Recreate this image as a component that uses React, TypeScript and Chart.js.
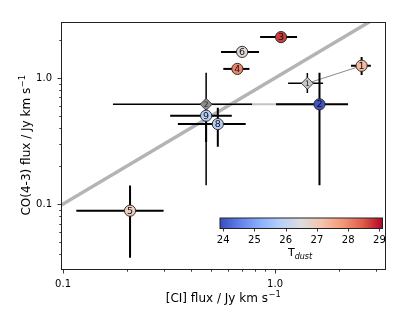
import React, { useEffect, useRef } from 'react';
import { Chart, registerables } from 'chart.js';
Chart.register(...registerables);

const FONT = 'DejaVu Sans';

// main sources (circles)
const labels = ['1', '2', '3', '4', '5', '6', '8', '9'];
const ciFlux = [2.56, 1.62, 1.067, 0.664, 0.207, 0.699, 0.537, 0.473];
const ciLo = [2.28, 1.011, 0.85, 0.57, 0.1155, 0.556, 0.348, 0.32];
const ciHi = [2.83, 2.21, 1.27, 0.757, 0.298, 0.84, 0.727, 0.625];
const coFlux = [1.25, 0.618, 2.11, 1.18, 0.0885, 1.61, 0.431, 0.502];
const coLo = [1.056, 0.141, 2.11, 1.18, 0.0375, 1.61, 0.285, 0.31];
const coHi = [1.468, 1.1, 2.11, 1.18, 0.14, 1.61, 0.581, 0.6];
const tDust = [27.3, 24.0, 28.7, 28.05, 26.9, 26.6, 25.8, 25.8];

// alternative measurements (diamonds), linked to main sources
const altLabels = ['1', '2'];
const altLink = [0, 1];
const altCi = [1.42, 0.473];
const altCiLo = [1.152, 0.172];
const altCiHi = [1.684, 0.779];
const altCo = [0.907, 0.618];
const altCoLo = [0.76, 0.141];
const altCoHi = [1.096, 1.1];
const altColors = ['#c6c6c6', '#8e8e8e'];

// one-to-one line
const oneToOne = [0.05, 5];

// axes
const xMin = 0.0978, xMax = 3.3;
const yMin = 0.0305, yMax = 2.78;
const xTicks = [0.1, 0.2, 0.3, 0.4, 0.5, 0.6, 0.7, 0.8, 0.9, 1, 2, 3];
const yTicks = [0.04, 0.05, 0.06, 0.07, 0.08, 0.09, 0.1, 0.2, 0.3, 0.4, 0.5, 0.6, 0.7, 0.8, 0.9, 1, 2];
const majorTicks = [0.1, 1];

// colorbar
const cbMin = 23.9, cbMax = 29.1;
const cbTicks = [24, 25, 26, 27, 28, 29];

const coolwarm: [number, number, number][] = [
  [59, 76, 192], [98, 130, 234], [141, 176, 254], [184, 208, 249], [221, 221, 221],
  [245, 196, 173], [244, 154, 123], [222, 96, 77], [180, 4, 38],
];
function cmap(f: number): string {
  f = Math.max(0, Math.min(1, f));
  const p = f * (coolwarm.length - 1);
  const i = Math.min(Math.floor(p), coolwarm.length - 2);
  const t = p - i;
  const a = coolwarm[i], b = coolwarm[i + 1];
  const c = a.map((v, k) => Math.round(v + (b[k] - v) * t));
  return `rgb(${c[0]},${c[1]},${c[2]})`;
}
const tColor = (t: number) => cmap((t - cbMin) / (cbMax - cbMin));

function drawSup(ctx: CanvasRenderingContext2D, base: string, sup: string, cx: number, cy: number, size: number) {
  ctx.font = `${size}px ${FONT}`;
  const wb = ctx.measureText(base).width;
  ctx.font = `${size * 0.7}px ${FONT}`;
  const ws = ctx.measureText(sup).width;
  const start = cx - (wb + ws) / 2;
  ctx.textAlign = 'left';
  ctx.textBaseline = 'middle';
  ctx.font = `${size}px ${FONT}`;
  ctx.fillText(base, start, cy);
  ctx.font = `${size * 0.7}px ${FONT}`;
  ctx.fillText(sup, start + wb + 0.5, cy - size * 0.38);
}

const overlay = {
  id: 'overlay',
  beforeDatasetDraw(chart: any, args: any) {
    if (args.index !== 1) return;
    const { ctx, chartArea: a } = chart;
    const xs = chart.scales.x, ys = chart.scales.y;
    ctx.save();
    ctx.beginPath();
    ctx.rect(a.left, a.top, a.right - a.left, a.bottom - a.top);
    ctx.clip();
    // connectors
    altLink.forEach((m, i) => {
      ctx.strokeStyle = i === 0 ? '#8a8a8a' : '#c4c4c4';
      ctx.lineWidth = i === 0 ? 1 : 2;
      ctx.beginPath();
      ctx.moveTo(xs.getPixelForValue(altCi[i]), ys.getPixelForValue(altCo[i]));
      ctx.lineTo(xs.getPixelForValue(ciFlux[m]), ys.getPixelForValue(coFlux[m]));
      ctx.stroke();
    });
    const bars = (cx: number[], cl: number[], ch: number[], yv: number[], yl: number[], yh: number[], w: number) => {
      ctx.strokeStyle = '#000';
      ctx.lineWidth = w;
      for (let i = 0; i < cx.length; i++) {
        const px = xs.getPixelForValue(cx[i]);
        const py = ys.getPixelForValue(yv[i]);
        ctx.beginPath();
        ctx.moveTo(xs.getPixelForValue(cl[i]), py);
        ctx.lineTo(xs.getPixelForValue(ch[i]), py);
        if (yl[i] !== yh[i]) {
          ctx.moveTo(px, ys.getPixelForValue(yl[i]));
          ctx.lineTo(px, ys.getPixelForValue(yh[i]));
        }
        ctx.stroke();
      }
    };
    bars(altCi, altCiLo, altCiHi, altCo, altCoLo, altCoHi, 1.5);
    bars(ciFlux, ciLo, ciHi, coFlux, coLo, coHi, 2);
    ctx.restore();
  },
  afterDatasetsDraw(chart: any) {
    const { ctx } = chart;
    const xs = chart.scales.x, ys = chart.scales.y;
    ctx.save();
    ctx.textAlign = 'center';
    ctx.textBaseline = 'middle';
    ctx.fillStyle = '#222';
    ctx.font = `7.5px ${FONT}`;
    altLabels.forEach((l, i) => {
      ctx.fillText(l, xs.getPixelForValue(altCi[i]), ys.getPixelForValue(altCo[i]) + 0.5);
    });
    ctx.fillStyle = '#111';
    ctx.font = `9.5px ${FONT}`;
    labels.forEach((l, i) => {
      ctx.fillText(l, xs.getPixelForValue(ciFlux[i]), ys.getPixelForValue(coFlux[i]) + 0.5);
    });
    ctx.restore();
  },
  afterDraw(chart: any) {
    const { ctx, chartArea: a } = chart;
    const xs = chart.scales.x, ys = chart.scales.y;
    ctx.save();
    // frame
    ctx.strokeStyle = '#222';
    ctx.lineWidth = 1;
    ctx.strokeRect(Math.round(a.left) + 0.5, Math.round(a.top) + 0.5, Math.round(a.right - a.left), Math.round(a.bottom - a.top));
    // ticks
    ctx.lineWidth = 0.9;
    ctx.beginPath();
    xTicks.forEach(v => {
      const px = Math.round(xs.getPixelForValue(v)) + 0.5;
      const len = majorTicks.includes(v) ? 4 : 2.2;
      ctx.moveTo(px, a.bottom + 0.5);
      ctx.lineTo(px, a.bottom + 0.5 + len);
    });
    yTicks.forEach(v => {
      const py = Math.round(ys.getPixelForValue(v)) + 0.5;
      const len = majorTicks.includes(v) ? 4 : 2.2;
      ctx.moveTo(a.left + 0.5, py);
      ctx.lineTo(a.left + 0.5 - len, py);
    });
    ctx.stroke();

    // colorbar
    const L = 220, R = 382.5, T = 218, B = 228.5;
    const g = ctx.createLinearGradient(L, 0, R, 0);
    coolwarm.forEach((c, i) => g.addColorStop(i / (coolwarm.length - 1), `rgb(${c[0]},${c[1]},${c[2]})`));
    ctx.fillStyle = g;
    ctx.fillRect(L, T, R - L, B - T);
    ctx.strokeStyle = '#222';
    ctx.lineWidth = 1;
    ctx.strokeRect(L, T, R - L, B - T);
    ctx.fillStyle = '#000';
    ctx.font = `10px ${FONT}`;
    ctx.textAlign = 'center';
    ctx.textBaseline = 'middle';
    ctx.beginPath();
    cbTicks.forEach(t => {
      const px = L + (t - cbMin) / (cbMax - cbMin) * (R - L);
      ctx.moveTo(Math.round(px) + 0.5, B);
      ctx.lineTo(Math.round(px) + 0.5, B + 3);
      ctx.fillText(String(t), px, 240.5);
    });
    ctx.lineWidth = 0.9;
    ctx.stroke();
    // T_dust
    ctx.font = `11px ${FONT}`;
    const wT = ctx.measureText('T').width;
    ctx.font = `italic 8px ${FONT}`;
    const wd = ctx.measureText('dust').width;
    const sx = 300 - (wT + wd) / 2;
    ctx.textAlign = 'left';
    ctx.font = `11px ${FONT}`;
    ctx.fillText('T', sx, 253.5);
    ctx.font = `italic 8px ${FONT}`;
    ctx.fillText('dust', sx + wT, 256.5);

    // axis titles
    ctx.fillStyle = '#000';
    drawSup(ctx, '[CI] flux / Jy km s', '\u22121', (a.left + a.right) / 2, 299, 12);
    ctx.save();
    ctx.translate(27, (a.top + a.bottom) / 2);
    ctx.rotate(-Math.PI / 2);
    drawSup(ctx, 'CO(4-3) flux / Jy km s', '\u22121', 0, 0, 12);
    ctx.restore();
    ctx.restore();
  },
};

export default function App() {
  const ref = useRef<HTMLCanvasElement>(null);
  useEffect(() => {
    const canvas = ref.current!;
    const tickLabel = (v: any) => (majorTicks.includes(Number(v)) ? Number(v).toFixed(1) : '');
    const chart = new Chart(canvas, {
      type: 'scatter',
      data: {
        datasets: [
          {
            type: 'line',
            data: oneToOne.map(v => ({ x: v, y: v })),
            borderColor: '#b4b4b4',
            borderWidth: 3.5,
            pointRadius: 0,
            order: 3,
          } as any,
          {
            data: altCi.map((v, i) => ({ x: v, y: altCo[i] })),
            pointStyle: 'rectRot',
            pointRadius: 6,
            backgroundColor: altColors,
            borderColor: '#222',
            borderWidth: 0.8,
            order: 2,
          },
          {
            data: ciFlux.map((v, i) => ({ x: v, y: coFlux[i] })),
            pointStyle: 'circle',
            pointRadius: 5.6,
            backgroundColor: tDust.map(tColor),
            borderColor: '#222',
            borderWidth: 0.9,
            order: 1,
          },
        ],
      },
      options: {
        animation: false,
        responsive: false,
        devicePixelRatio: 1,
        layout: { padding: { left: 0, top: 22, right: 22, bottom: 0 } },
        plugins: { legend: { display: false }, tooltip: { enabled: false } },
        scales: {
          x: {
            type: 'logarithmic',
            min: xMin,
            max: xMax,
            grid: { display: false },
            border: { display: false },
            afterBuildTicks: (s: any) => { s.ticks = xTicks.map(v => ({ value: v })); },
            afterFit: (s: any) => { s.height = 48; },
            ticks: { autoSkip: false, maxRotation: 0, padding: 1, color: '#000', font: { family: FONT, size: 10 }, callback: tickLabel },
          },
          y: {
            type: 'logarithmic',
            min: yMin,
            max: yMax,
            grid: { display: false },
            border: { display: false },
            afterBuildTicks: (s: any) => { s.ticks = yTicks.map(v => ({ value: v })); },
            afterFit: (s: any) => { s.width = 61; },
            ticks: { autoSkip: false, padding: 1, color: '#000', font: { family: FONT, size: 10 }, callback: tickLabel },
          },
        },
      },
      plugins: [overlay],
    } as any);
    return () => chart.destroy();
  }, []);
  return (
    <div style={{ position: 'fixed', left: 0, top: 0, width: 407, height: 317, background: '#fff' }}>
      <canvas ref={ref} width={407} height={317} style={{ width: 407, height: 317, display: 'block' }} />
    </div>
  );
}
